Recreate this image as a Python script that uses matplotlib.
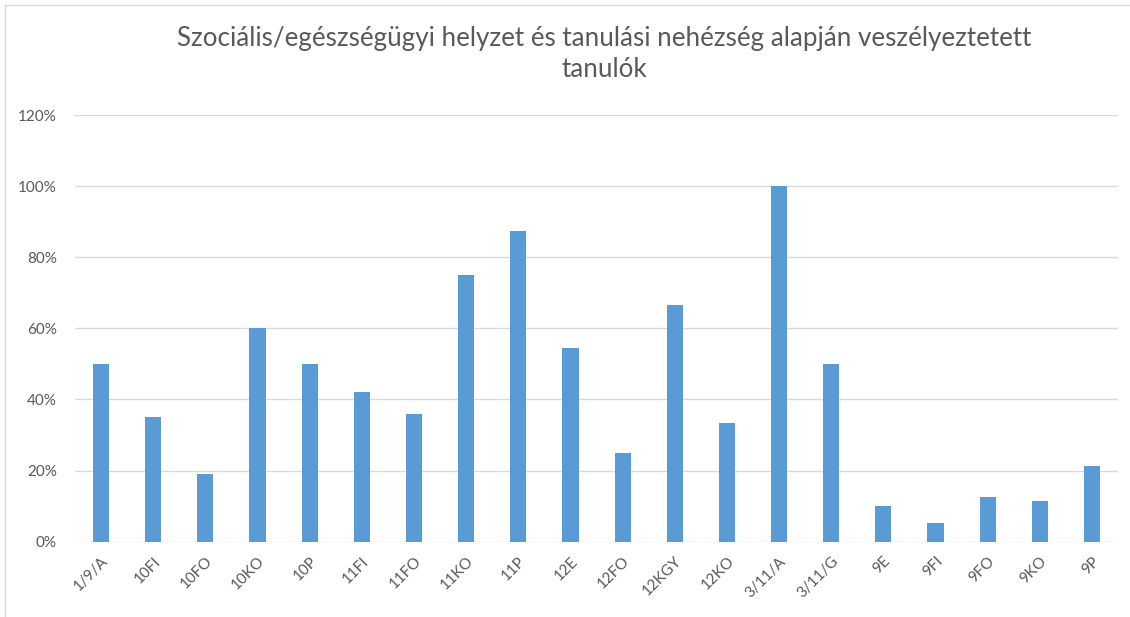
import numpy as np
import matplotlib.pyplot as plt
from matplotlib.ticker import PercentFormatter
from matplotlib.lines import Line2D

# class groups and share of at-risk students
classes = ["1/9/A", "10FI", "10FO", "10KO", "10P", "11FI", "11FO", "11KO", "11P", "12E",
           "12FO", "12KGY", "12KO", "3/11/A", "3/11/G", "9E", "9FI", "9FO", "9KO", "9P"]
shares = [0.50, 0.35, 0.19, 0.60, 0.50, 0.42, 0.36, 0.75, 0.875, 0.545,
          0.25, 0.667, 0.333, 1.00, 0.50, 0.10, 0.053, 0.126, 0.114, 0.212]
y_ticks = [0, 0.2, 0.4, 0.6, 0.8, 1.0, 1.2]

title = "Szociális/egészségügyi helyzet és tanulási nehézség alapján veszélyeztetett\ntanulók"

plt.rcParams['font.family'] = ['Lato', 'DejaVu Sans']
grey = "#595959"

fig = plt.figure(figsize=(11.3, 6.17), dpi=100)
ax = fig.add_axes([0.0664, 0.122, 0.923, 0.6916])

x = np.arange(len(classes))
ax.bar(x, shares, width=0.31, color="#5B9BD5", zorder=3)

ax.set_xlim(-0.5, len(classes) - 0.5)
ax.set_ylim(0, 1.2)
ax.set_yticks(y_ticks)
ax.yaxis.set_major_formatter(PercentFormatter(1.0, decimals=0))
ax.grid(axis="y", color="#D9D9D9", linewidth=1, zorder=0)
for s in ax.spines.values():
    s.set_visible(False)
ax.tick_params(axis="both", length=0, colors=grey, labelsize=11)
ax.tick_params(axis="y", pad=13)

ax.set_xticks(x)
ax.set_xticklabels(classes, rotation=45, ha="right", rotation_mode="anchor")
ax.tick_params(axis="x", pad=9)

fig.text(0.535, 0.912, title, ha="center", va="center", multialignment="center",
         fontsize=18.7, color=grey, linespacing=1.3)

# chart area border (left and top edges visible)
fig.add_artist(Line2D([5 / 1130, 5 / 1130], [0, 1 - 5 / 617], color="#D9D9D9", lw=1))
fig.add_artist(Line2D([5 / 1130, 1], [1 - 5 / 617, 1 - 5 / 617], color="#D9D9D9", lw=1))

fig.savefig("out.png", dpi=100)
